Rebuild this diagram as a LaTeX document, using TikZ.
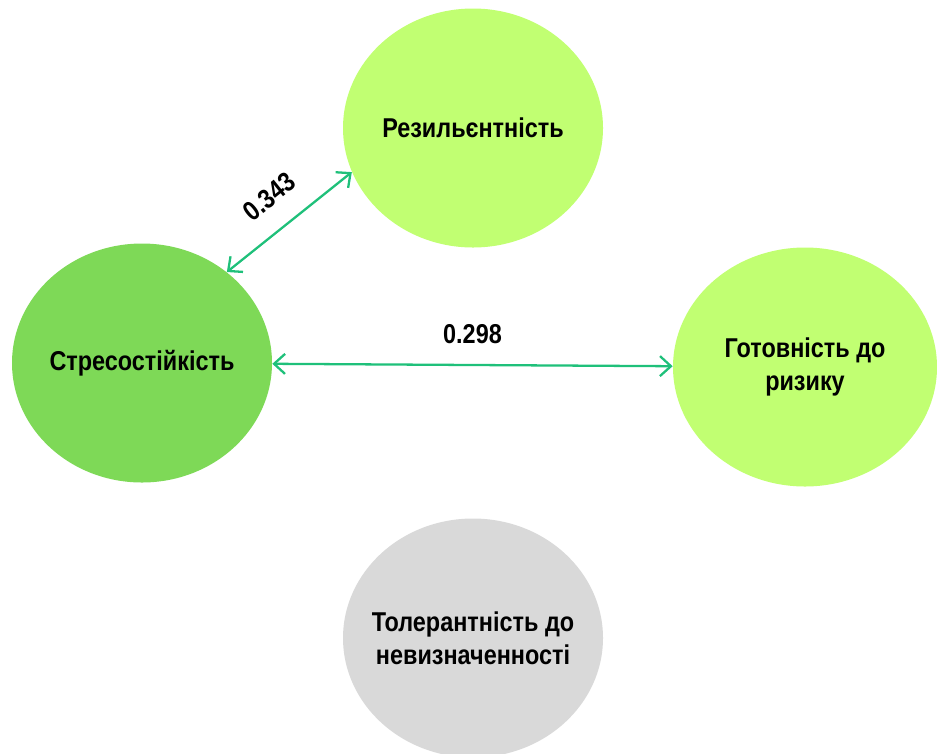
\documentclass[tikz,border=0pt]{standalone}
\usepackage{fontspec}
\setmainfont{Liberation Sans}[FakeStretch=0.86]
\usetikzlibrary{shapes.geometric}
\usetikzlibrary{arrows.meta}

\definecolor{lightgreen}{HTML}{C1FF72}
\definecolor{darkgreen}{HTML}{7ED957}
\definecolor{lightgray}{HTML}{D9D9D9}
\definecolor{linkgreen}{HTML}{1FC07A}

\tikzset{
  factor/.style={ellipse, inner xsep=-6mm, inner ysep=0pt, minimum width=5.2cm, minimum height=4.78cm, align=center, font=\bfseries\fontsize{15.5}{19}\selectfont},
  link/.style={linkgreen, line width=1.3pt, {Straight Barb[length=2.2mm,width=4mm]}-{Straight Barb[length=2.2mm,width=4mm]}},
  weight/.style={text=black, font=\bfseries\fontsize{15.5}{18}\selectfont}
}

\begin{document}
\begin{tikzpicture}
				\useasboundingbox (0,0) rectangle (18.74,-15.06);
				\node[factor, fill=lightgreen] (R1) at (9.46,-2.56) {Резильєнтність};
				\node[factor, fill=darkgreen] (S1) at (2.84,-7.26) {Стресостійкість};
				\node[factor, fill=lightgreen, minimum width=5.28cm] (G1) at (16.1,-7.34) {Готовність до\\ризику};
				\node[factor, fill=lightgray] (T1) at (9.46,-12.76) {Толерантність до\\невизначенності};
				
				\draw[link] (S1.47) -- node[weight, midway, above=9pt, sloped] {0.343} (R1.200);
				\draw[link] (S1) -- node[weight, midway, above=8pt] {0.298} (G1);
			\end{tikzpicture}
\end{document}
